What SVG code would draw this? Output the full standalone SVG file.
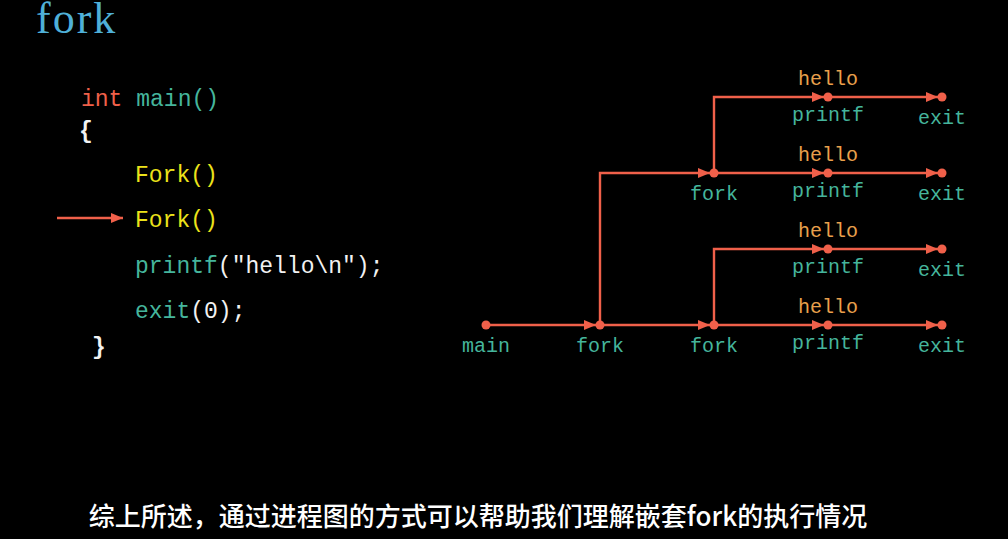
<svg xmlns="http://www.w3.org/2000/svg" width="1008" height="539" viewBox="0 0 1008 539">
<style>
.code{font-family:"Liberation Mono","DejaVu Sans Mono",monospace;font-size:23px}
.lbl{font-family:"Liberation Mono","DejaVu Sans Mono",monospace;font-size:20px;text-anchor:middle}
.teal{fill:#45b59c}
.hello{fill:#e9a04c}
.wht{fill:#f2f2f2}
.yel{fill:#ece21a}
.red{fill:#f0604a}
.edge{stroke:#f0604a;stroke-width:2.4;fill:none}
.dot{fill:#f0604a}
</style>
<defs>
<marker id="ah" viewBox="0 0 12 10" refX="12" refY="5" markerWidth="12" markerHeight="10" markerUnits="userSpaceOnUse" orient="auto">
<path d="M0,0 L12,5 L0,10 Z" fill="#f0604a"/>
</marker>
</defs>
<rect width="1008" height="539" fill="#000"/>
<text x="36" y="33" font-family="Liberation Serif, serif" font-size="44" letter-spacing="2" fill="#4fb0d8">fork</text>

<g id="code">
<text class="code" x="81" y="106"><tspan class="red">int</tspan> <tspan class="teal">main()</tspan></text>
<text class="code wht" x="79" y="138" font-weight="bold">{</text>
<text class="code yel" x="135" y="182">Fork()</text>
<text class="code yel" x="135" y="227">Fork()</text>
<text class="code" x="135" y="273"><tspan class="teal">printf</tspan><tspan class="wht">("hello\n");</tspan></text>
<text class="code" x="135" y="318"><tspan class="teal">exit</tspan><tspan class="wht">(0);</tspan></text>
<text class="code wht" x="92" y="354" font-weight="bold">}</text>
</g>
<g id="pointer">
<line x1="57" y1="218" x2="123" y2="218" class="edge" marker-end="url(#ah)"/>
</g>

<g id="connectors">
<line class="edge" x1="486" y1="325" x2="596" y2="325" marker-end="url(#ah)"/>
<line class="edge" x1="600" y1="325" x2="710" y2="325" marker-end="url(#ah)"/>
<line class="edge" x1="714" y1="325" x2="824" y2="325" marker-end="url(#ah)"/>
<line class="edge" x1="828" y1="325" x2="938" y2="325" marker-end="url(#ah)"/>
<path class="edge" d="M714,325 V249 H824" marker-end="url(#ah)"/>
<line class="edge" x1="828" y1="249" x2="938" y2="249" marker-end="url(#ah)"/>
<path class="edge" d="M600,325 V173 H710" marker-end="url(#ah)"/>
<line class="edge" x1="714" y1="173" x2="824" y2="173" marker-end="url(#ah)"/>
<line class="edge" x1="828" y1="173" x2="938" y2="173" marker-end="url(#ah)"/>
<path class="edge" d="M714,173 V97 H824" marker-end="url(#ah)"/>
<line class="edge" x1="828" y1="97" x2="938" y2="97" marker-end="url(#ah)"/>
</g>

<g id="n-main"><circle class="dot" cx="486" cy="325" r="4.5"/><text class="lbl teal" x="486" y="352">main</text></g>
<g id="n-fork1"><circle class="dot" cx="600" cy="325" r="4.5"/><text class="lbl teal" x="600" y="352">fork</text></g>
<g id="n-fork2"><circle class="dot" cx="714" cy="325" r="4.5"/><text class="lbl teal" x="714" y="352">fork</text></g>
<g id="n-printf4"><circle class="dot" cx="828" cy="325" r="4.5"/><text class="lbl hello" x="828" y="313">hello</text><text class="lbl teal" x="828" y="349">printf</text></g>
<g id="n-exit4"><circle class="dot" cx="942" cy="325" r="4.5"/><text class="lbl teal" x="942" y="352">exit</text></g>

<g id="n-printf3"><circle class="dot" cx="828" cy="249" r="4.5"/><text class="lbl hello" x="828" y="237">hello</text><text class="lbl teal" x="828" y="273">printf</text></g>
<g id="n-exit3"><circle class="dot" cx="942" cy="249" r="4.5"/><text class="lbl teal" x="942" y="276">exit</text></g>

<g id="n-fork3"><circle class="dot" cx="714" cy="173" r="4.5"/><text class="lbl teal" x="714" y="200">fork</text></g>
<g id="n-printf2"><circle class="dot" cx="828" cy="173" r="4.5"/><text class="lbl hello" x="828" y="161">hello</text><text class="lbl teal" x="828" y="197">printf</text></g>
<g id="n-exit2"><circle class="dot" cx="942" cy="173" r="4.5"/><text class="lbl teal" x="942" y="200">exit</text></g>

<g id="n-printf1"><circle class="dot" cx="828" cy="97" r="4.5"/><text class="lbl hello" x="828" y="85">hello</text><text class="lbl teal" x="828" y="121">printf</text></g>
<g id="n-exit1"><circle class="dot" cx="942" cy="97" r="4.5"/><text class="lbl teal" x="942" y="124">exit</text></g>

<text x="478" y="526" text-anchor="middle" font-family="Noto Sans CJK SC, sans-serif" font-size="26" font-weight="500" fill="#ffffff">综上所述，通过进程图的方式可以帮助我们理解嵌套fork的执行情况</text>
</svg>
